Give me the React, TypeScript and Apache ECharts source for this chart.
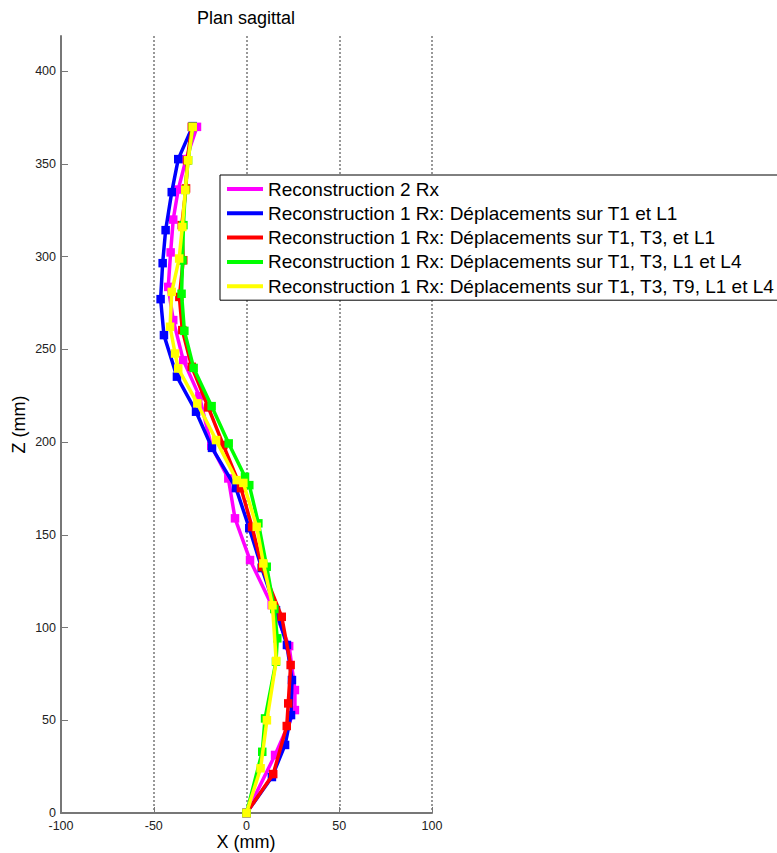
import React, { useEffect, useRef } from "react";
import * as echarts from "echarts";

const FONT = 'Arial, "Liberation Sans", sans-serif';

const xTicks = [-100, -50, 0, 50, 100];
const zTicks = [0, 50, 100, 150, 200, 250, 300, 350, 400];

const seriesNames = [
  "Reconstruction 2 Rx",
  "Reconstruction 1 Rx: Déplacements sur T1 et L1",
  "Reconstruction 1 Rx: Déplacements sur T1, T3, et L1",
  "Reconstruction 1 Rx: Déplacements sur T1, T3, L1 et L4",
  "Reconstruction 1 Rx: Déplacements sur T1, T3, T9, L1 et L4",
];
const seriesColors = ["#ff00ff", "#0000ff", "#ff0000", "#00ff00", "#ffff00"];

const magentaX = [-26.7, -32.6, -36.8, -39.5, -40.9, -42.2, -39.5, -34.1, -25.4, -19, -9.8, -6.2, 1.9, 13.6, 23, 26.1, 26.1, 15.4, 0];
const magentaZ = [370, 352.6, 336.2, 320, 302.3, 283.7, 265.8, 244.2, 224.8, 198, 180.4, 158.9, 136.4, 112.1, 90, 66.3, 55.5, 31.3, 0];

const blueX = [-29, -36.8, -40.3, -43.6, -45.2, -46.3, -44.5, -37.5, -27.2, -18.6, -5.7, 1.5, 8.2, 15.9, 21.8, 24.5, 24, 20.8, 13.7, 0];
const blueZ = [370.4, 352.6, 334.8, 314.3, 296.5, 277.1, 257.7, 235.3, 216.4, 196.9, 175.2, 153.6, 132.1, 109.4, 90.6, 71.7, 52.8, 36.7, 19.4, 0];

const redX = [-29.5, -32, -32.6, -34.9, -34.1, -36.2, -34.6, -29.5, -20.6, -12.5, -3, 3, 8.4, 19, 23.8, 22.5, 21.7, 14.4, 0];
const redZ = [370, 352, 336.8, 317, 298.1, 278.3, 260.4, 240.6, 218.7, 198.4, 175.2, 154.2, 132.6, 105.8, 79.8, 59.1, 46.9, 21, 0];

const greenX = [-29, -31.5, -33, -34, -34.5, -35, -33.5, -28.5, -18.8, -9.6, -0.8, 1.5, 6.4, 10.9, 15, 16.6, 15.9, 10, 8.5, 0];
const greenZ = [370, 352, 336, 317, 298, 280, 260, 240, 219.4, 199.3, 181.3, 176.8, 156.2, 132.8, 110, 94.2, 81.6, 51, 33, 0];

const yellowX = [-29, -31.5, -33, -34.6, -36.3, -40.3, -41.2, -38.5, -36.8, -26.5, -16.4, -5.3, -1.7, 5.5, 9.1, 14, 16, 11, 7.6, 0];
const yellowZ = [370, 352, 336, 316, 299, 281, 262.2, 247.8, 239.7, 220.9, 201.1, 179.5, 178, 154.3, 134.6, 112, 82, 50, 24.1, 0];

const seriesXs = [magentaX, blueX, redX, greenX, yellowX];
const seriesZs = [magentaZ, blueZ, redZ, greenZ, yellowZ];

export default function App() {
  const ref = useRef<HTMLDivElement>(null);
  useEffect(() => {
    if (!ref.current) return;
    const chart = echarts.init(ref.current, null, { renderer: "svg" });
    const series = seriesNames.map((name, i) => ({
      name,
      type: "line",
      data: seriesXs[i].map((x, j) => [x, seriesZs[i][j]]),
      symbol: "rect",
      symbolSize: 8.5,
      showSymbol: true,
      lineStyle: { color: seriesColors[i], width: 3.5 },
      itemStyle: { color: seriesColors[i] },
      emphasis: { disabled: true },
      z: 2 + i,
    }));
    chart.setOption({
      animation: false,
      backgroundColor: "#ffffff",
      textStyle: { fontFamily: FONT },
      graphic: [
        {
          type: "text",
          x: 246,
          y: 18,
          style: {
            text: "Plan sagittal",
            fontSize: 18,
            fontFamily: FONT,
            fill: "#000",
            textAlign: "center",
            textVerticalAlign: "middle",
          },
        },
        {
          type: "text",
          x: 246,
          y: 842,
          style: {
            text: "X (mm)",
            fontSize: 18,
            fontFamily: FONT,
            fill: "#000",
            textAlign: "center",
            textVerticalAlign: "middle",
          },
        },
      ],
      grid: {
        left: 61,
        top: 36,
        width: 371,
        height: 777,
        containLabel: false,
        outerBoundsMode: "none",
      },
      xAxis: {
        type: "value",
        min: -100,
        max: 100,
        interval: 50,
        axisLine: { show: true, onZero: false, lineStyle: { color: "#777", width: 2 } },
        axisTick: { show: true, inside: true, length: 6, lineStyle: { color: "#777" } },
        axisLabel: {
          fontSize: 12.5,
          color: "#222",
          margin: 6,
          fontFamily: FONT,
          customValues: xTicks,
        },
        splitLine: { show: true, lineStyle: { color: "#777", type: [2, 2], width: 1.5 } },
      },
      yAxis: {
        type: "value",
        min: 0,
        max: 419,
        interval: 50,
        name: "Z (mm)",
        nameLocation: "middle",
        nameGap: 33,
        nameTextStyle: { fontSize: 18, color: "#000", fontFamily: FONT },
        axisLine: { show: true, onZero: false, lineStyle: { color: "#777", width: 2 } },
        axisTick: { show: true, inside: true, length: 7, lineStyle: { color: "#777" }, customValues: zTicks },
        axisLabel: {
          fontSize: 12.5,
          color: "#222",
          margin: 5,
          fontFamily: FONT,
          customValues: zTicks,
        },
        splitLine: { show: false },
      },
      legend: {
        data: seriesNames.map((n) => ({ name: n, icon: "rect" })),
        orient: "vertical",
        left: 220,
        top: 175,
        itemWidth: 36,
        itemHeight: 4,
        itemGap: 4.3,
        padding: [4, 12, 4, 7],
        backgroundColor: "#ffffff",
        borderColor: "#000",
        borderWidth: 1,
        selectedMode: false,
        textStyle: { fontSize: 19, color: "#000", fontFamily: FONT, lineHeight: 20 },
      },
      series,
    });
    return () => chart.dispose();
  }, []);
  return (
    <div
      ref={ref}
      style={{ position: "fixed", left: 0, top: 0, width: 777, height: 853, background: "#fff" }}
    />
  );
}
